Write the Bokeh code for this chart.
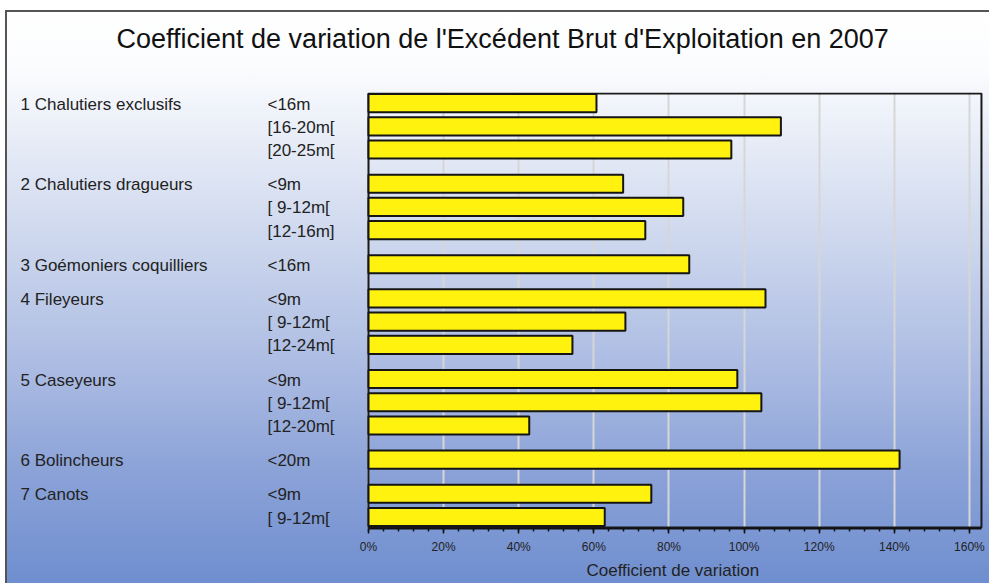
from bokeh.plotting import figure
from bokeh.models import Range1d, FixedTicker, PrintfTickFormatter, ColumnDataSource, Title
from bokeh.core.properties import value
from bokeh.embed import file_html
from bokeh.resources import INLINE

# ---------------- data ----------------
title_text = "Coefficient de variation de l'Excédent Brut d'Exploitation en 2007"
axis_title = "Coefficient de variation"

groups = [
    "1 Chalutiers exclusifs",
    "2 Chalutiers dragueurs",
    "3 Goémoniers coquilliers",
    "4 Fileyeurs",
    "5 Caseyeurs",
    "6 Bolincheurs",
    "7 Canots",
]
segment_labels = [
    "<16m", "[16-20m[", "[20-25m[",
    "<9m", "[ 9-12m[", "[12-16m]",
    "<16m",
    "<9m", "[ 9-12m[", "[12-24m[",
    "<9m", "[ 9-12m[", "[12-20m[",
    "<20m",
    "<9m", "[ 9-12m[",
]
segment_group = [0, 0, 0, 1, 1, 1, 2, 3, 3, 3, 4, 4, 4, 5, 6, 6]
cv_values = [
    60.7, 109.8, 96.6,
    67.8, 83.8, 73.7,
    85.4,
    105.7, 68.4, 54.3,
    98.2, 104.6, 42.8,
    141.4,
    75.3, 62.9,
]
tick_values = [0, 20, 40, 60, 80, 100, 120, 140, 160]
minor_tick_values = [v for v in range(0, 164, 4)]

# ---------------- layout helpers ----------------
GAP = 0.47  # extra space between groups (in bar slots)
ypos = [-(i + GAP * g) for i, g in enumerate(segment_group)]
group_first = [segment_group.index(k) for k in range(len(groups))]
group_y = [ypos[i] for i in group_first]

box_top = ypos[0] + 0.416
box_bottom = ypos[-1] - 0.455
box_right = 163.2

FONT = "Liberation Sans"

BG = ("linear-gradient(#555555, #555555) 5px 10px / 100% 2px no-repeat, "
      "linear-gradient(#555555, #555555) 5px 10px / 2px 100% no-repeat, "
      "linear-gradient(180deg, #ffffff 0%, #fbfcfe 10%, #e8edf7 22%, #c6d1eb 45%, "
      "#a7b8e1 65%, #8ca3d8 80%, #6f8ecf 100%) 5px 10px / 100% 573px no-repeat, "
      "#ffffff")

p = figure(
    width=989, height=583,
    x_range=Range1d(-97.98, 165.34),
    y_range=Range1d(box_bottom - 0.04, box_top + 0.04),
    output_backend="svg", toolbar_location=None,
    y_axis_location=None,
    min_border_left=0, min_border_right=0,
    min_border_top=92, min_border_bottom=55,
    title=None,
    styles={"background": BG},
)
p.background_fill_alpha = 0
p.border_fill_alpha = 0
p.outline_line_color = None

# spacer between the frame and the main title (stacked nearest the frame)
spacer = Title(text=" ", text_font=FONT, text_font_size="10px", standoff=26)
p.add_layout(spacer, "above")
main_title = Title(text=title_text, align="left", offset=116, standoff=0,
                   vertical_align="bottom",
                   text_font=FONT, text_font_size="27px", text_font_style="normal",
                   text_color="#111111")
p.add_layout(main_title, "above")

# grid
p.ygrid.visible = False
p.xgrid.ticker = FixedTicker(ticks=tick_values)
p.xgrid.bounds = (0, 160)
p.xgrid.grid_line_color = "#d6d6d6"
p.xgrid.grid_line_width = 2

# axis
ax = p.xaxis[0]
ax.ticker = FixedTicker(ticks=tick_values, minor_ticks=minor_tick_values)
ax.formatter = PrintfTickFormatter(format="%d%%")
ax.bounds = (0, box_right)
ax.axis_line_color = "#111111"
ax.axis_line_width = 2
ax.major_tick_line_color = "#111111"
ax.major_tick_line_width = 1.5
ax.major_tick_out = 5
ax.major_tick_in = 0
ax.minor_tick_line_color = "#111111"
ax.minor_tick_line_width = 1.5
ax.minor_tick_out = 3
ax.minor_tick_in = 0
ax.major_label_text_font = FONT
ax.major_label_text_font_size = "12px"
ax.major_label_text_color = "#222222"
ax.major_label_standoff = 6

# axis title, centred under the plot box
xt = Title(text=axis_title, align="left", offset=586, standoff=5,
           text_font=FONT, text_font_size="17px", text_font_style="normal",
           text_color="#222222")
p.add_layout(xt, "below")

# plot box
p.quad(left=[0], right=[box_right], bottom=[box_bottom], top=[box_top],
       fill_alpha=0, line_color="#1a1a1a", line_width=2)

# bars
src = ColumnDataSource(dict(y=ypos, v=cv_values, seg=segment_labels))
p.hbar(y="y", left=0, right="v", height=0.78, source=src,
       fill_color="#FFF20F", line_color="#151515", line_width=2)

# labels
p.text(x=[-26.9] * len(segment_labels), y=ypos, text=segment_labels,
       text_font=value(FONT), text_font_size="17px", text_color="#222222",
       text_baseline="middle", text_align="left", y_offset=1)
p.text(x=[-92.65] * len(groups), y=group_y, text=groups,
       text_font=value(FONT), text_font_size="17px", text_color="#222222",
       text_baseline="middle", text_align="left", y_offset=1)

open("out.html", "w").write(file_html(p, INLINE))
